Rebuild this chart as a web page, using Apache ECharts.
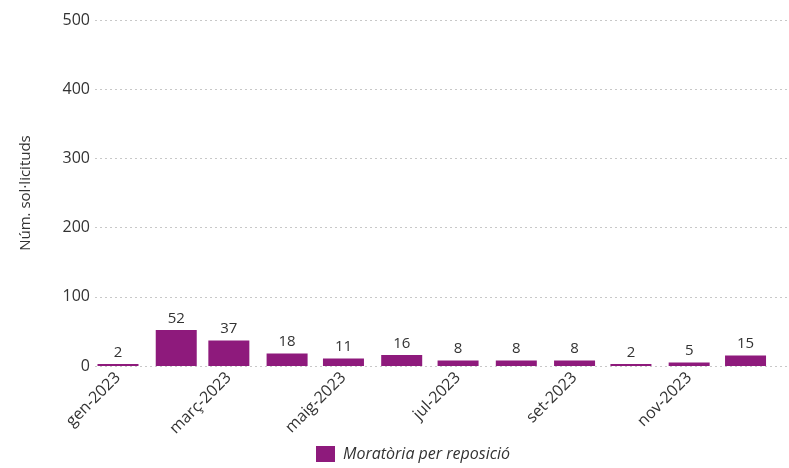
<!DOCTYPE html>
<html>
<head>
<meta charset="utf-8">
<script src="https://cdn.jsdelivr.net/npm/echarts@6/dist/echarts.min.js"></script>
<style>
  html, body { margin: 0; padding: 0; background: #fff; }
  #chart { width: 789px; height: 468px; }
</style>
</head>
<body>
<div id="chart"></div>
<script>
// Monthly requests, one bar per month (placed on the first day of the month)
const months = ['2023-01-01', '2023-02-01', '2023-03-01', '2023-04-01', '2023-05-01', '2023-06-01',
                '2023-07-01', '2023-08-01', '2023-09-01', '2023-10-01', '2023-11-01', '2023-12-01'];
const requests = [2, 52, 37, 18, 11, 16, 8, 8, 8, 2, 5, 15];
const monthNames = ['gen', 'febr', 'març', 'abr', 'maig', 'juny', 'jul', 'ag', 'set', 'oct', 'nov', 'des'];
const seriesName = 'Moratòria per reposició';
const yTicks = { min: 0, max: 500, interval: 100 };

const FONT = '"Open Sans", sans-serif';
const TEXT = '#333333';
const DAY = 86400000;
const BAR_WIDTH = 41;

const toTime = s => new Date(s + 'T00:00:00').getTime();

// ECharts widens a time axis carrying bars by half a bar on each side,
// so the requested extent is set a little inside the wanted one.
const PLOT_W = 789 - 95 - 1;
const wantMin = toTime('2023-01-01') - 12.24 * DAY;
const wantMax = toTime('2023-12-01') + 22.6 * DAY;
const pad = (wantMax - wantMin) * (BAR_WIDTH / PLOT_W) / 2;

const chart = echarts.init(document.getElementById('chart'), null, { renderer: 'canvas' });

chart.setOption({
  animation: false,
  textStyle: { fontFamily: FONT },
  grid: { left: 95, right: 1, top: 20, bottom: 102 },
  legend: {
    top: 446,
    left: 316,
    padding: 0,
    itemWidth: 19,
    itemHeight: 16,
    icon: 'rect',
    textStyle: { fontFamily: FONT, fontSize: 16, fontStyle: 'italic', color: TEXT, padding: [0, 0, 0, 3] },
    data: [seriesName]
  },
  xAxis: {
    type: 'time',
    min: wantMin + pad,
    max: wantMax - pad,
    axisLine: { show: false },
    axisTick: { show: false },
    splitLine: { show: false },
    axisLabel: {
      rotate: 45,
      fontFamily: FONT,
      fontSize: 16,
      color: TEXT,
      margin: 9,
      hideOverlap: false,
      showMinLabel: false,
      showMaxLabel: false,
      formatter: function (value) {
        const d = new Date(value);
        if (d.getFullYear() !== 2023 || d.getDate() !== 1 || d.getHours() !== 0 || d.getMonth() % 2 !== 0) return '';
        return monthNames[d.getMonth()] + '-' + d.getFullYear();
      }
    }
  },
  yAxis: {
    type: 'value',
    min: yTicks.min,
    max: yTicks.max,
    interval: yTicks.interval,
    name: 'Núm. sol·licituds',
    nameLocation: 'middle',
    nameGap: 62,
    nameTextStyle: { fontFamily: FONT, fontSize: 15, color: TEXT },
    axisLine: { show: false },
    axisTick: { show: false },
    axisLabel: { fontFamily: FONT, fontSize: 16, color: TEXT, margin: 5 },
    splitLine: { lineStyle: { color: '#c8c8c8', type: [2, 3], width: 1 } }
  },
  series: [{
    name: seriesName,
    type: 'bar',
    barWidth: BAR_WIDTH,
    barMinHeight: 2,
    data: months.map((m, i) => [toTime(m), requests[i]]),
    itemStyle: { color: '#8e1a7c' },
    label: {
      show: true,
      position: 'top',
      distance: 4,
      fontFamily: FONT,
      fontSize: 15,
      color: TEXT
    }
  }]
});
</script>
</body>
</html>
